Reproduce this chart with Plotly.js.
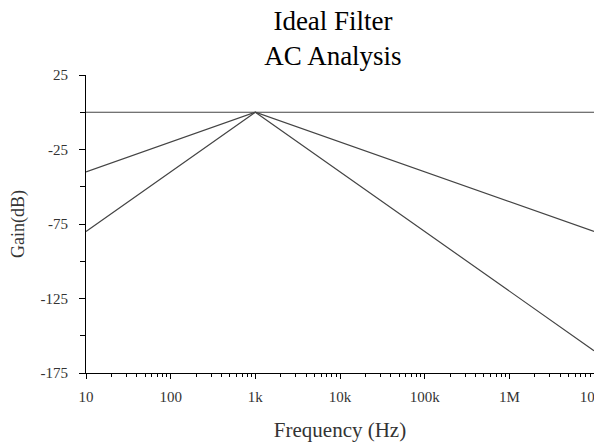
<!DOCTYPE html>
<html>
<head>
<meta charset="utf-8">
<script src="https://cdn.plot.ly/plotly-3.0.1.min.js"></script>
<style>
  html, body { margin: 0; padding: 0; background: #fff; }
  #chart { width: 594px; height: 448px; }
</style>
</head>
<body>
<div id="chart"></div>
<script>
// Frequency sweep points (Hz)
const frequency = [10, 1000, 1e7];

// Gain responses (dB)
const gainAllPass = [0, 0, 0];
const gainFirstOrder = [-40, 0, -80];
const gainSecondOrder = [-80, 0, -160];

// X tick positions and labels
const freqTickVals = [10, 100, 1000, 1e4, 1e5, 1e6, 1e7];
const freqTickText = ['10', '100', '1k', '10k', '100k', '1M', '10M'];

// Y tick positions and labels (plain hyphen for the sign)
const gainTickVals = [25, -25, -75, -125, -175];
const gainTickText = ['25', '-25', '-75', '-125', '-175'];

const lineStyle = { color: '#444', width: 1.2 };
const serif = 'Liberation Serif, Times New Roman, serif';

const traces = [
  { x: frequency, y: gainAllPass, mode: 'lines', line: lineStyle, name: 'All-pass' },
  { x: frequency, y: gainFirstOrder, mode: 'lines', line: lineStyle, name: '1st order' },
  { x: frequency, y: gainSecondOrder, mode: 'lines', line: lineStyle, name: '2nd order' }
];

const layout = {
  width: 594,
  height: 448,
  margin: { l: 86, r: 0, t: 75, b: 75 },
  paper_bgcolor: '#fff',
  plot_bgcolor: '#fff',
  showlegend: false,
  font: { family: serif, color: '#222', size: 15 },
  title: {
    text: 'Ideal Filter<br>AC Analysis',
    font: { family: serif, size: 27, color: '#000' },
    x: 333 / 594,
    xref: 'container',
    xanchor: 'center',
    y: 1 - 30 / 448,
    yref: 'container',
    yanchor: 'top'
  },
  xaxis: {
    type: 'log',
    range: [1, 7],
    tickvals: freqTickVals,
    ticktext: freqTickText,
    ticks: 'outside',
    ticklen: 5,
    tickcolor: '#000',
    ticklabelstandoff: 5,
    showgrid: false,
    zeroline: false,
    showline: true,
    linecolor: '#000',
    linewidth: 1,
    ticklabeloverflow: 'allow',
    tickfont: { family: serif, size: 15, color: '#333' },
    minor: { dtick: 'D1', ticks: 'outside', ticklen: 3, tickcolor: '#000', showgrid: false },
    title: { text: 'Frequency (Hz)', font: { family: serif, size: 21, color: '#333' }, standoff: 18 },
    automargin: false,
    fixedrange: true
  },
  yaxis: {
    range: [-175, 25],
    tickvals: gainTickVals,
    ticktext: gainTickText,
    ticks: 'outside',
    ticklen: 6,
    tickcolor: '#000',
    ticklabelstandoff: 8,
    showgrid: false,
    zeroline: false,
    showline: true,
    linecolor: '#000',
    linewidth: 1,
    tickfont: { family: serif, size: 15, color: '#333' },
    minor: { tick0: 0, dtick: 50, ticks: 'outside', ticklen: 5, tickcolor: '#000', showgrid: false },
    title: { text: 'Gain(dB)', font: { family: serif, size: 18, color: '#333' }, standoff: 11 },
    automargin: false,
    fixedrange: true
  }
};

Plotly.newPlot('chart', traces, layout, { displayModeBar: false, staticPlot: true });
</script>
</body>
</html>
